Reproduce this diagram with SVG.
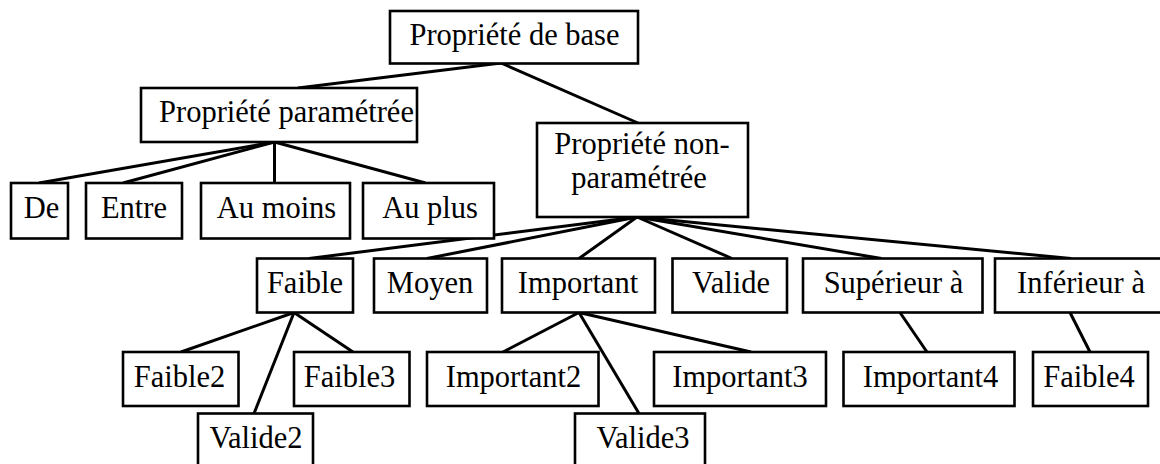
<svg xmlns="http://www.w3.org/2000/svg" width="1160" height="464" viewBox="0 0 1160 464">
<style>
rect{fill:#fff;stroke:#000;stroke-width:2.6}
text{font-family:"Liberation Serif","Times New Roman",serif;font-size:30.5px;fill:#000;text-anchor:middle}
#connectors line{stroke:#000;stroke-width:3;stroke-linecap:butt}
</style>
<rect x="0" y="0" width="1160" height="464" style="stroke:none"/>
<g id="connectors">
<line x1="501" y1="63" x2="298" y2="88"/>
<line x1="501" y1="63" x2="638" y2="123"/>
<line x1="274.5" y1="142" x2="39" y2="183"/>
<line x1="274.5" y1="142" x2="123" y2="183"/>
<line x1="274.5" y1="142" x2="274.5" y2="183"/>
<line x1="274.5" y1="142" x2="425.5" y2="183"/>
<line x1="637" y1="217" x2="309" y2="258.5"/>
<line x1="637" y1="217" x2="427" y2="258.5"/>
<line x1="637" y1="217" x2="579" y2="258.5"/>
<line x1="637" y1="217" x2="732" y2="258.5"/>
<line x1="637" y1="217" x2="881.5" y2="258.5"/>
<line x1="637" y1="217" x2="1071" y2="258.5"/>
<line x1="294" y1="312.5" x2="181" y2="352"/>
<line x1="294" y1="312.5" x2="353" y2="352"/>
<line x1="294" y1="312.5" x2="254" y2="413.5"/>
<line x1="579" y1="312.5" x2="503" y2="352"/>
<line x1="579" y1="312.5" x2="639" y2="413.5"/>
<line x1="579" y1="312.5" x2="751" y2="352"/>
<line x1="900" y1="312.5" x2="927" y2="352"/>
<line x1="1070" y1="312.5" x2="1090" y2="352"/>
</g>
<g id="n-base"><rect x="390" y="11" width="248" height="52.5"/><text x="514.5" y="45">Propriété de base</text></g>
<g id="n-param"><rect x="141" y="88" width="276" height="54"/><text x="286.5" y="122">Propriété paramétrée</text></g>
<g id="n-nonparam"><rect x="537" y="123" width="211" height="94"/><text x="642" y="154">Propriété non-</text><text x="639" y="188">paramétrée</text></g>
<g id="n-de"><rect x="11" y="183" width="57" height="55.5"/><text x="41.5" y="217.5">De</text></g>
<g id="n-entre"><rect x="86" y="183" width="96" height="55.5"/><text x="134" y="217.5">Entre</text></g>
<g id="n-aumoins"><rect x="201" y="183" width="149" height="55.5"/><text x="276.5" y="217.5">Au moins</text></g>
<g id="n-auplus"><rect x="363" y="183" width="131" height="55.5"/><text x="430" y="217.5">Au plus</text></g>
<g id="n-faible"><rect x="257" y="258.5" width="96" height="54"/><text x="305" y="293">Faible</text></g>
<g id="n-moyen"><rect x="374" y="258.5" width="113" height="54"/><text x="430" y="293">Moyen</text></g>
<g id="n-important"><rect x="502" y="258.5" width="153" height="54"/><text x="578" y="293">Important</text></g>
<g id="n-valide"><rect x="672.5" y="258.5" width="114.5" height="54"/><text x="731" y="293">Valide</text></g>
<g id="n-superieur"><rect x="803" y="258.5" width="179.5" height="54"/><text x="893.5" y="293">Supérieur à</text></g>
<g id="n-inferieur"><rect x="995" y="258.5" width="172" height="54"/><text x="1081" y="293">Inférieur à</text></g>
<g id="n-faible2"><rect x="123" y="352" width="115.5" height="54"/><text x="179.5" y="387">Faible2</text></g>
<g id="n-faible3"><rect x="294" y="352" width="115.5" height="54"/><text x="349.5" y="387">Faible3</text></g>
<g id="n-important2"><rect x="427" y="352" width="171.5" height="54"/><text x="513.5" y="387">Important2</text></g>
<g id="n-important3"><rect x="654" y="352" width="172" height="54"/><text x="740" y="387">Important3</text></g>
<g id="n-important4"><rect x="843.5" y="352" width="171" height="54"/><text x="930.5" y="387">Important4</text></g>
<g id="n-faible4"><rect x="1033" y="352" width="115" height="54"/><text x="1089" y="387">Faible4</text></g>
<g id="n-valide2"><rect x="198" y="413.5" width="115" height="54"/><text x="256" y="448">Valide2</text></g>
<g id="n-valide3"><rect x="575" y="413.5" width="130" height="54"/><text x="643" y="448">Valide3</text></g>
</svg>
